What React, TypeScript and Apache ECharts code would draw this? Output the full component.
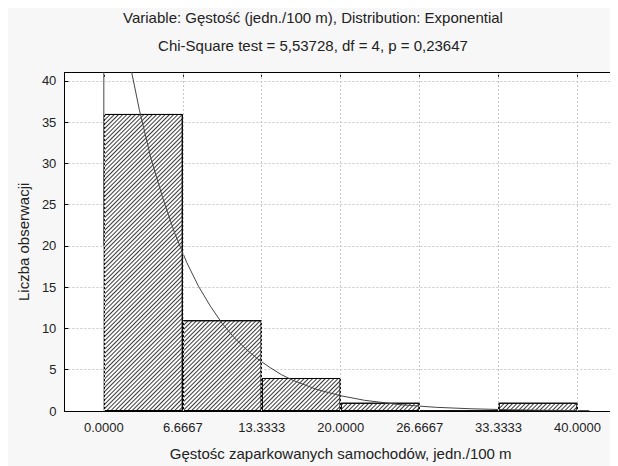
import React, { useEffect, useRef } from 'react';
import * as echarts from 'echarts';

const titleLine1 = 'Variable: Gęstość (jedn./100 m), Distribution: Exponential';
const titleLine2 = 'Chi-Square test = 5,53728, df = 4, p = 0,23647';
const xAxisName = 'Gęstośc zaparkowanych samochodów, jedn./100 m';
const yAxisName = 'Liczba obserwacji';

const binCenters = [3.3333, 10, 16.6667, 23.3333, 30, 36.6667];
const counts = [36, 11, 4, 1, 0, 1];

const curveX = [0, 0, 1, 2, 3, 4, 5, 6, 7, 8, 9, 10, 11, 12, 13, 14, 15, 16, 18, 20, 22, 25, 28, 31, 34, 37, 40, 41];
const curveY = [20, 62, 52, 43.5, 36.5, 30.5, 25.7, 21.5, 18, 15.1, 12.7, 10.6, 8.9, 7.5, 6.3, 5.3, 4.4, 3.7, 2.6, 1.85, 1.3, 0.77, 0.45, 0.27, 0.16, 0.09, 0.055, 0.045];

const xTickValues = [0, 6.6667, 13.3333, 20, 26.6667, 33.3333, 40];
const xTickLabels = ['0.0000', '6.6667', '13.3333', '20.0000', '26.6667', '33.3333', '40.0000'];
const yTickLabels = ['0', '5', '10', '15', '20', '25', '30', '35', '40'];

const FONT = 'Liberation Sans, Arial, sans-serif';

export default function App() {
  const ref = useRef<HTMLDivElement>(null);
  useEffect(() => {
    if (!ref.current) return;
    const chart = echarts.init(ref.current, undefined, { renderer: 'svg' });
    const labelFor = (v: number) => {
      for (let i = 0; i < xTickValues.length; i++) {
        if (Math.abs(xTickValues[i] - v) < 1e-3) return xTickLabels[i];
      }
      return '';
    };
    const border = { show: true, onZero: false, lineStyle: { color: '#000', width: 1 } };
    chart.setOption({
      animation: false,
      backgroundColor: '#f7f7f7',
      textStyle: { fontFamily: FONT },
      title: [
        { text: titleLine1, left: 'center', top: 1, padding: 0, textStyle: { fontSize: 15, lineHeight: 16, fontWeight: 'normal', color: '#222', fontFamily: FONT } },
        { text: titleLine2, left: 'center', top: 29, padding: 0, textStyle: { fontSize: 15, lineHeight: 16, fontWeight: 'normal', color: '#222', fontFamily: FONT } },
      ],
      grid: { left: 55, right: 1, top: 64.7, bottom: 52.7, show: true, backgroundColor: '#fff', borderWidth: 0 },
      xAxis: [
        {
          type: 'value', min: -3.3333, max: 43.3333,
          axisLine: border,
          axisTick: { inside: true, length: 4, customValues: xTickValues, lineStyle: { color: '#000' } },
          axisLabel: { customValues: xTickValues, formatter: (v: number) => labelFor(v), fontSize: 13, color: '#222', margin: 10, fontFamily: FONT },
          splitLine: { show: false },
          name: xAxisName, nameLocation: 'middle', nameGap: 35,
          nameTextStyle: { fontSize: 15, color: '#222', fontFamily: FONT },
        },
        {
          type: 'value', min: -3.3333, max: 43.3333, position: 'top',
          axisLine: border,
          axisTick: { inside: true, length: 4, customValues: xTickValues, lineStyle: { color: '#000' } },
          axisLabel: { show: false },
          splitLine: { show: false },
        },
      ],
      yAxis: [
        {
          type: 'value', min: 0, max: 41, interval: 5,
          axisLine: border,
          axisTick: { inside: true, length: 4, lineStyle: { color: '#000' } },
          axisLabel: { fontSize: 13, color: '#222', margin: 8, showMaxLabel: false, fontFamily: FONT,
            formatter: (v: number) => (yTickLabels.indexOf(String(v)) >= 0 ? String(v) : '') },
          splitLine: { show: true, showMaxLine: false, showMinLine: false, lineStyle: { color: '#c8c8c8', type: [2, 2], width: 1 } },
          name: yAxisName, nameLocation: 'middle', nameGap: 28,
          nameTextStyle: { fontSize: 15, color: '#222', fontFamily: FONT },
        },
        {
          type: 'value', min: 0, max: 41, interval: 5, position: 'right',
          axisLine: border,
          axisTick: { inside: true, length: 4, lineStyle: { color: '#000' } },
          axisLabel: { show: false },
          splitLine: { show: false },
        },
      ],
      series: [
        {
          type: 'line', xAxisIndex: 0, yAxisIndex: 0, z: 1,
          data: [], symbol: 'none', silent: true,
          markLine: {
            silent: true, symbol: 'none', label: { show: false },
            lineStyle: { color: '#c8c8c8', type: [2, 2], width: 1 },
            data: xTickValues.map((v) => ({ xAxis: v })),
          },
        },
        {
          type: 'bar', xAxisIndex: 0, yAxisIndex: 0, z: 2,
          barWidth: '100%',
          data: binCenters.map((c, i) => [c, counts[i]]),
          itemStyle: {
            color: '#fff', borderColor: '#000', borderWidth: 1,
            decal: { symbol: 'rect', color: '#3a3a3a', dashArrayX: [1, 0], dashArrayY: [1, 2], rotation: -Math.PI / 4, symbolSize: 1 },
          },
        },
        {
          type: 'line', xAxisIndex: 0, yAxisIndex: 0, z: 3,
          data: curveX.map((x, i) => [x, curveY[i]]),
          symbol: 'none', smooth: false, clip: true,
          lineStyle: { color: '#444', width: 1 },
        },
      ],
    });
    return () => chart.dispose();
  }, []);
  return <div ref={ref} style={{ width: 610, height: 458 }} />;
}
